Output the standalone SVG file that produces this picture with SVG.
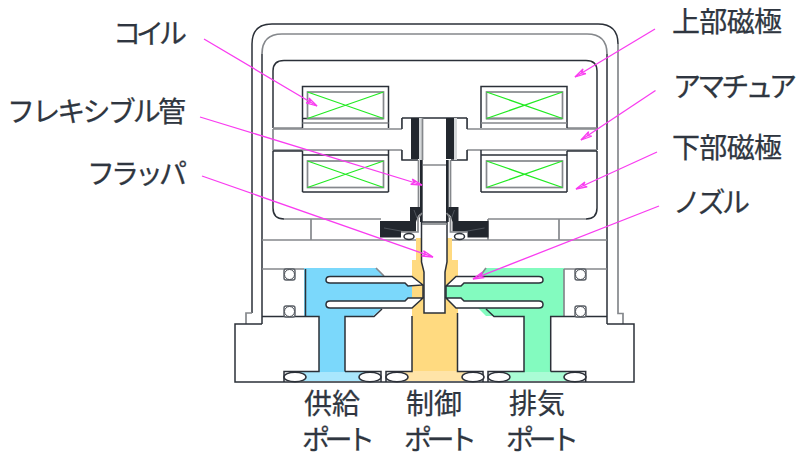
<svg xmlns="http://www.w3.org/2000/svg" xmlns:xlink="http://www.w3.org/1999/xlink" width="798" height="457" viewBox="0 0 798 457">
<style>
.d{fill:none;stroke:#2b3038;stroke-width:1.5}
.g{fill:none;stroke:#85888c;stroke-width:1.7}
.w{fill:#fff;stroke:#2b3038;stroke-width:1.5}
.x{fill:none;stroke:#22ea22;stroke-width:1.2}
.k{fill:#22272e}
.c{fill:none;stroke:#f93cf0;stroke-width:1.3;marker-end:url(#h)}
text{font-family:"Liberation Sans","Noto Sans CJK JP",sans-serif;font-size:28px;fill:#2f3640;stroke:#2f3640;stroke-width:.25}
</style>
<defs>
<marker id="h" markerUnits="userSpaceOnUse" markerWidth="16" markerHeight="10" refX="14" refY="5" orient="auto"><path d="M3,2.2 L14,5 L3,7.8 L6,5 Z" fill="none" stroke="#f93cf0" stroke-width="1.3"/></marker>
<g id="clamp">
<path class="k" d="M380,221 L410,221 L410,207 L420,207 L421,213 L418,216 L416,222 L416,231.5 L401,231.5 L401,237.5 L380,237.5 Z"/>
<path d="M384,228 L412,233 M414,210 L417,218" stroke="#6a7078" stroke-width=".6" fill="none"/>
<path class="g" d="M401,232 L418,232 L418,218 L422,213"/>
<ellipse cx="409" cy="236.5" rx="5" ry="3" class="w"/>
</g>
<g id="ring"><rect x="284" y="269" width="11" height="11" rx="2" fill="#fff" stroke="#5a5f66" stroke-width="1.4"/><circle cx="289.500" cy="274.500" r="5" fill="#fff" stroke="#2b3038" stroke-width=".8"/></g>
<g id="coil"><rect x="307.500" y="92" width="76" height="26.500" fill="#fff" class="g"/><path class="x" d="M307.500,92 L383.500,118.500 M307.500,118.500 L383.500,92"/></g>
</defs>
<rect width="798" height="457" fill="#fff"/>
<g id="housing">
<path class="d" d="M252,313 L252,44 Q252,24 272,24 L598,24 Q618,24 618,44"/>
<path class="g" d="M618,44 L618,313.500 L623,313.500 L623,324 M252,313 L246,313 L246,324"/>
<path class="g" d="M262,54 Q262,34 282,34 L587,34 Q607,34 607,54"/>
<path class="d" d="M262,54 L262,324 M607,54 L607,324"/>
<path class="d" d="M607,324 L634,324 L634,382 L235,382 L235,324 L262,324"/>
</g>
<g id="upper-pole">
<path class="d" d="M273,128 L273,71 Q273,60.500 284,60.500 L586,60.500 Q597,60.500 597,71 L597,150"/>
<path class="g" stroke-width="2" d="M273,128 L302.500,128 M567,128 L597,128"/>
</g>
<g id="armature">
<path class="g" d="M273,129 L402,129 L402,118 M467,118 L467,129 L597,129"/>
<path class="g" d="M273,129 L273,150 L402,150 L402,160 M467,160 L467,150 L597,150"/>
</g>
<g id="lower-pole">
<path class="d" d="M273,151 L302.500,151 M567,151 L597,151 M273,151 L273,208 Q273,219 284,219 M597,151 L597,208 Q597,219 586,219"/>
<path class="g" d="M284,219 L381,219 M488,219 L586,219 M262,240 L607,240 M311,219 L311,240 M559,219 L559,240 M488,219 L488,240"/>
<path class="d" d="M302.500,192 L388.500,192 M481,192 L567,192"/>
</g>
<g id="coils">
<path class="d" d="M302.500,128 L302.500,86.500 L388.500,86.500 L388.500,128 M481,128 L481,86.500 L567,86.500 L567,128 M302.500,118.500 L383.500,118.500 M486,118.500 L562,118.500"/>
<path class="g" d="M302.500,123 L388.500,123 M481,123 L567,123"/>
<use xlink:href="#coil" href="#coil"/>
<use xlink:href="#coil" href="#coil" x="179"/>
<path class="d" d="M302.500,151 L302.500,192 M388.500,150 L388.500,192 M481,150 L481,192 M567,151 L567,192 M302.500,155 L388.500,155 M481,155 L567,155"/>
<use xlink:href="#coil" href="#coil" y="69"/>
<use xlink:href="#coil" href="#coil" x="179" y="69"/>
</g>
<g id="fluid">
<path fill="#7bd8fb" d="M304,268 L376,268 L384,276 L412,276 L424,285 L424,299 L412,308 L382,308 L373,316 L345,316 L345,372 L367,372 L372,381 L288,381 L295,372 L319,372 L319,316 L304,316 Z"/>
<path fill="#a9e7fd" d="M319,372 L345,372 L367,372 L372,381 L288,381 L295,372 Z"/>
<path fill="#ffda80" d="M416,238 L452,238 L452,260 L458,260 L458,372 L472,372 L472,381 L396,381 L396,372 L412,372 L412,260 L416,260 Z"/>
<path fill="#ffe4a8" d="M412,371 L458,371 L472,372 L472,381 L396,381 L396,372 Z"/>
<path fill="#83fbbf" d="M486,268 L564,268 L564,316 L551,316 L551,372 L566,372 L570,381 L496,381 L500,372 L524,372 L524,316 L486,316 L478,308 L456,308 L445,297 L445,286 L456,277 L480,277 Z"/>
<path fill="#aafcd5" d="M500,372 L566,372 L570,381 L496,381 Z"/>
</g>
<g id="body">
<path class="g" d="M262,269 L304,269 M564,269 L607,269 M564,269 L564,316 M376,268 L384,276 M486,268 L480,276"/>
<path class="d" d="M305.500,269 L305.500,316.500 M262,316.500 L319,316.500 L319,371.500 L284,371.500 L284,382 M345,371.500 L381,371.500 L381,382 M345,371.500 L345,316.500 L374,316.500 L382,309"/>
<path class="d" d="M412,316 L412,371.500 L386,371.500 L386,382 M457.500,313 L457.500,371.500 L483,371.500 L483,382 M488,382 L488,371.500 L524,371.500 L524,316.500 L494,316.500 L486,309 M550.700,371.500 L550.700,316.500 L607,316.500 M550.700,371.500 L585.700,371.500 L585.700,382"/>
<path class="w" d="M423,285 L412,276.500 L330,276.500 Q326,276.500 326,280 Q326,283 330,283 L405,283 L408,286 Z"/>
<path class="w" d="M423,298 L412,308 L330,308 Q326,308 326,304.500 Q326,301 330,301 L405,301 L408,298 Z"/>
<path class="w" d="M446,286 L456,276.500 L539,276.500 Q543,276.500 543,280 Q543,283 539,283 L464,283 L461,286 Z"/>
<path class="w" d="M446,298 L456,308 L539,308 Q543,308 543,304.500 Q543,301 539,301 L464,301 L461,298 Z"/>
<use xlink:href="#ring" href="#ring"/>
<use xlink:href="#ring" href="#ring" y="37"/>
<use xlink:href="#ring" href="#ring" x="291"/>
<use xlink:href="#ring" href="#ring" x="291" y="37"/>
<ellipse class="w" cx="295" cy="377" rx="11" ry="4.800"/>
<ellipse class="w" cx="370" cy="377" rx="11" ry="4.800"/>
<ellipse class="w" cx="397" cy="377" rx="11" ry="4.800"/>
<ellipse class="w" cx="473" cy="377" rx="11" ry="4.800"/>
<ellipse class="w" cx="499" cy="377" rx="11" ry="4.800"/>
<ellipse class="w" cx="575" cy="377" rx="11" ry="4.800"/>
</g>
<g id="flexure-tube">
<rect x="402" y="118" width="65" height="42" fill="#fff"/>
<path class="d" d="M402,118 L467,118 M402,118 L402,129 M467,118 L467,129 M402,150 L402,160 L418,160 M467,150 L467,160 L451,160"/>
<rect x="419" y="118" width="3" height="42" fill="#d5d8da"/>
<rect x="454" y="118" width="3" height="42" fill="#d5d8da"/>
<rect x="411" y="118" width="8" height="41" class="k"/>
<rect x="446" y="118" width="8" height="41" class="k"/>
<path class="g" d="M422.500,118 L422.500,160 M447,165 L423,165"/>
<rect x="420" y="160" width="2.700" height="62" class="k"/>
<rect x="446" y="160" width="2.700" height="62" class="k"/>
<path class="g" d="M418.500,160 L418.500,208 M450.500,160 L450.500,208"/>
<use xlink:href="#clamp" href="#clamp"/>
<use xlink:href="#clamp" href="#clamp" transform="translate(868.500,0) scale(-1,1)"/>
</g>
<g id="flapper">
<path fill="#fff" stroke="#2b3038" stroke-width="1.5" d="M421.500,222 L421.500,262 L424,272 L424,313 L445,313 L445,272 L447,262 L447,222 Z"/>
<path class="g" d="M422,224 L447,224"/>
<path class="d" d="M423,285 L423,298 M446,286 L446,298"/>
</g>
<g id="connectors">
<path class="c" d="M204,39 L317,106"/>
<path class="c" d="M200,117 L422,185"/>
<path class="c" d="M202,176 L433,257"/>
<path class="c" d="M655,29 L575,77"/>
<path class="c" d="M655.500,90.500 L581,140"/>
<path class="c" d="M657,152 L576,189"/>
<path class="c" d="M659,206 L473,279"/>
</g>
<g id="label-coil"><text x="113" y="44" textLength="74">コイル</text></g>
<g id="label-flex"><text x="7" y="122" textLength="179">フレキシブル管</text></g>
<g id="label-flapper"><text x="87" y="184" textLength="100">フラッパ</text></g>
<g id="label-upper"><text x="672" y="32" textLength="110">上部磁極</text></g>
<g id="label-armature"><text x="673" y="97" textLength="124">アマチュア</text></g>
<g id="label-lower"><text x="672" y="158" textLength="110">下部磁極</text></g>
<g id="label-nozzle"><text x="673" y="213" textLength="77">ノズル</text></g>
<g id="label-supply"><text x="304" y="414" textLength="56">供給</text><text x="302" y="450" textLength="73">ポート</text></g>
<g id="label-control"><text x="406" y="414" textLength="56">制御</text><text x="404" y="450" textLength="73">ポート</text></g>
<g id="label-exhaust"><text x="509" y="414" textLength="56">排気</text><text x="506" y="450" textLength="73">ポート</text></g>
</svg>
